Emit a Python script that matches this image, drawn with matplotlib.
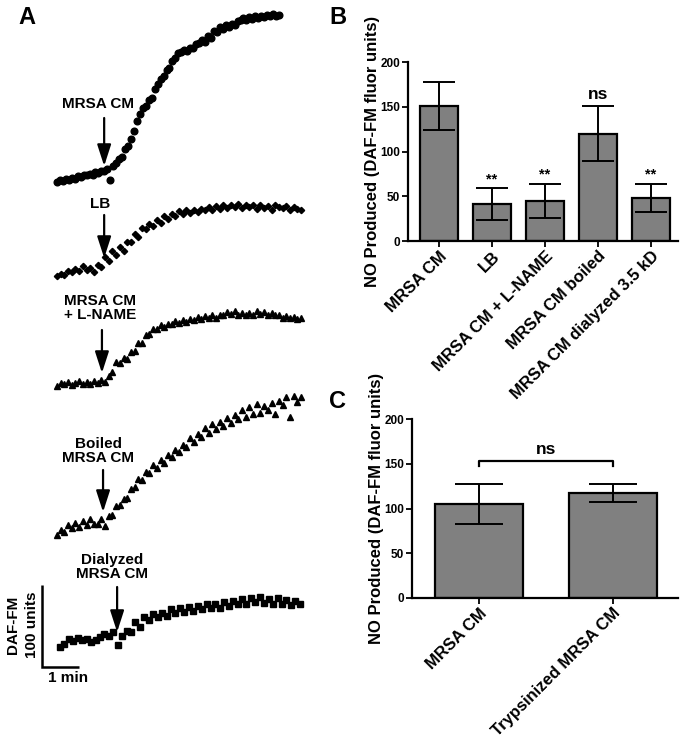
import numpy as np
import matplotlib
matplotlib.use('Agg')
import matplotlib.pyplot as plt

plt.rcParams['font.family'] = ['Liberation Sans', 'DejaVu Sans']
plt.rcParams['font.weight'] = 'bold'
plt.rcParams['axes.labelweight'] = 'bold'

# ---- panel A : DAF-FM traces (fluorescence units above each trace's start) ----
trace_names = ['MRSA CM', 'LB', 'MRSA CM\n+ L-NAME', 'Boiled\nMRSA CM', 'Dialyzed\nMRSA CM']
trace_markers = ['o', 'D', '^', '^', 's']
trace_t0 = [0.405, 0.405, 0.405, 0.405, 0.486]   # min
trace_dt = [0.08, 0.1, 0.1, 0.1, 0.12]            # min between readings
trace_add = [1.68, 1.68, 1.62, 1.65, 2.03]         # time of addition (min)

mrsa_cm = [0, 2, 1, 4, 3, 5, 4, 7, 6, 9, 8, 10, 9, 12, 11, 14, 13, 16, 2, 20,
           23, 28, 31, 40, 44, 53, 62, 74, 83, 90, 93, 100, 103, 113, 120, 126, 129, 136, 139, 147,
           151, 157, 158, 161, 160, 163, 164, 168, 169, 173, 171, 178, 176, 184, 183, 189, 187, 191, 189, 193,
           192, 196, 197, 200, 198, 201, 199, 202, 200, 203, 201, 204, 203, 205, 203, 204]
lb = [0, 3, 1, 6, 5, 9, 6, 12, 7, 10, 5, 14, 11, 23, 18, 30, 25, 35, 31, 41,
      42, 51, 48, 58, 57, 64, 61, 68, 65, 73, 70, 76, 73, 79, 75, 80, 77, 81, 78, 82,
      80, 84, 81, 85, 82, 86, 83, 87, 84, 88, 83, 86, 84, 87, 82, 86, 83, 85, 81, 86,
      84, 83, 85, 81, 84, 82, 80]
lname = [0, 4, 2, 5, 1, 4, 6, 2, 5, 3, 6, 4, 7, 5, 12, 17, 29, 28, 34, 33,
         42, 43, 52, 53, 62, 63, 69, 70, 74, 72, 76, 75, 79, 77, 80, 78, 82, 81, 84, 82,
         85, 83, 86, 83, 87, 86, 90, 88, 91, 87, 89, 86, 89, 87, 91, 88, 90, 87, 89, 86,
         86, 83, 85, 83, 84, 82, 83]
boiled = [0, 6, 4, 12, 8, 15, 10, 17, 12, 19, 14, 13, 20, 11, 23, 24, 35, 36, 44, 45,
          56, 58, 68, 67, 77, 76, 85, 82, 91, 88, 98, 95, 104, 101, 110, 107, 118, 113, 123, 120,
          130, 125, 135, 129, 138, 133, 143, 136, 146, 141, 152, 144, 156, 147, 160, 149, 157, 152, 161, 148,
          164, 158, 168, 144, 170, 162, 168]
dialyzed = [0, 4, 10, 7, 11, 8, 10, 6, 9, 12, 16, 13, 18, 2, 14, 20, 18, 30, 24, 37,
            33, 40, 36, 42, 38, 46, 41, 47, 43, 49, 44, 50, 46, 52, 47, 53, 48, 55, 50, 56,
            52, 58, 53, 60, 55, 61, 54, 59, 53, 60, 52, 57, 51, 56, 53]
traces = [mrsa_cm, lb, lname, boiled, dialyzed]

# ---- panel B ----
b_labels = ['MRSA CM', 'LB', 'MRSA CM + L-NAME', 'MRSA CM boiled', 'MRSA CM dialyzed 3.5 kD']
b_values = [151, 41, 45, 120, 48]
b_sem = [27, 18, 19, 31, 16]
b_sig = ['', '**', '**', 'ns', '**']

# ---- panel C ----
c_labels = ['MRSA CM', 'Trypsinized MRSA CM']
c_values = [105, 117]
c_sem = [22, 10]

fig = plt.figure(figsize=(6.88, 7.56), dpi=100)


# pixel -> panel A data (1 min = 37 px, 100 units = 82 px)
def tx(px):
    return (px - 42) / 37.0


def uy(py):
    return (667 - py) / 0.82


ax_a = fig.add_axes([0, 0, 330 / 688, 1])
ax_a.set_xlim(tx(0), tx(330))
ax_a.set_ylim(uy(756), uy(0))
ax_a.axis('off')

base_py = [182, 276, 386, 535, 647]
arrow_py = [(118, 166), (215, 258), (330, 373), (470, 512), (587, 632)]
label_pos = [(98, 104), (100, 204), (100, 308), (98, 451), (112, 567)]
msizes = [4.8, 3.2, 4.6, 4.6, 4.6]

for i in range(5):
    y = np.array(traces[i])
    t = trace_t0[i] + trace_dt[i] * np.arange(len(y))
    ax_a.plot(t, uy(base_py[i]) + y, ls='none', marker=trace_markers[i],
              ms=msizes[i], color='k', mec='k', clip_on=False)
    ax_a.annotate('', xy=(trace_add[i], uy(arrow_py[i][1])),
                  xytext=(trace_add[i], uy(arrow_py[i][0])),
                  arrowprops=dict(arrowstyle='-|>,head_width=0.42,head_length=1.3',
                                  lw=1.6, color='k', shrinkA=0, shrinkB=0,
                                  mutation_scale=10))
    ax_a.text(tx(label_pos[i][0]), uy(label_pos[i][1]), trace_names[i],
              ha='center', va='center', fontsize=11, linespacing=1.05)

# scale bar
ax_a.plot([0, 0, 1], [100, 0, 0], color='k', lw=1.8, solid_capstyle='butt',
          solid_joinstyle='miter', clip_on=False)
ax_a.text(tx(13), uy(625), 'DAF-FM', rotation=90, ha='center', va='center', fontsize=11)
ax_a.text(tx(32), uy(625), '100 units', rotation=90, ha='center', va='center', fontsize=11)
ax_a.text(tx(68), uy(678), '1 min', ha='center', va='center', fontsize=11)

fig.text(27 / 688, 1 - 18 / 756, 'A', fontsize=17, ha='center', va='center')
fig.text(338 / 688, 1 - 18 / 756, 'B', fontsize=17, ha='center', va='center')
fig.text(338 / 688, 1 - 402 / 756, 'C', fontsize=17, ha='center', va='center')


def style_axes(ax):
    for s in ['top', 'right']:
        ax.spines[s].set_visible(False)
    for s in ['left', 'bottom']:
        ax.spines[s].set_linewidth(1.6)
    ax.set_ylim(0, 200)
    ax.set_yticks([0, 50, 100, 150, 200])
    ax.tick_params(axis='both', length=4, width=1.3, pad=1.5)
    ax.tick_params(axis='y', labelsize=8.5)
    ax.tick_params(axis='x', labelsize=12)
    ax.set_ylabel('NO Produced (DAF-FM fluor units)', fontsize=12, labelpad=0.5)


# panel B
ax_b = fig.add_axes([408 / 688, 1 - 241 / 756, 270 / 688, 179 / 756])
xb = np.arange(len(b_values))
ax_b.bar(xb, b_values, width=0.7, color='#808080', edgecolor='k', lw=1.6, zorder=2)
ax_b.errorbar(xb, b_values, yerr=b_sem, fmt='none', ecolor='k', elinewidth=1.4,
              capsize=11.5, capthick=1.4, zorder=3)
for i in range(len(b_values)):
    if b_sig[i] == 'ns':
        ax_b.text(xb[i], b_values[i] + b_sem[i] + 4, 'ns', ha='center', va='bottom', fontsize=12.5)
    elif b_sig[i]:
        ax_b.text(xb[i], b_values[i] + b_sem[i] + 2, b_sig[i], ha='center', va='bottom', fontsize=10.5)
ax_b.set_xlim(-0.585, 4.51)
style_axes(ax_b)
ax_b.set_xticks(xb)
ax_b.set_xticklabels(b_labels, rotation=45, ha='right', rotation_mode='anchor')

# panel C
ax_c = fig.add_axes([412 / 688, 1 - 598 / 756, 266 / 688, 179 / 756])
xc = np.arange(len(c_values))
ax_c.bar(xc, c_values, width=0.664, color='#808080', edgecolor='k', lw=1.6, zorder=2)
ax_c.errorbar(xc, c_values, yerr=c_sem, fmt='none', ecolor='k', elinewidth=1.4,
              capsize=17, capthick=1.4, zorder=3)
ax_c.plot([0, 0, 1, 1], [147, 153, 153, 147], color='k', lw=1.6)
ax_c.text(0.5, 158, 'ns', ha='center', va='bottom', fontsize=12.5)
ax_c.set_xlim(-0.5, 1.485)
style_axes(ax_c)
ax_c.set_xticks(xc)
ax_c.set_xticklabels(c_labels, rotation=45, ha='right', rotation_mode='anchor')

fig.savefig('out.png', dpi=100)
